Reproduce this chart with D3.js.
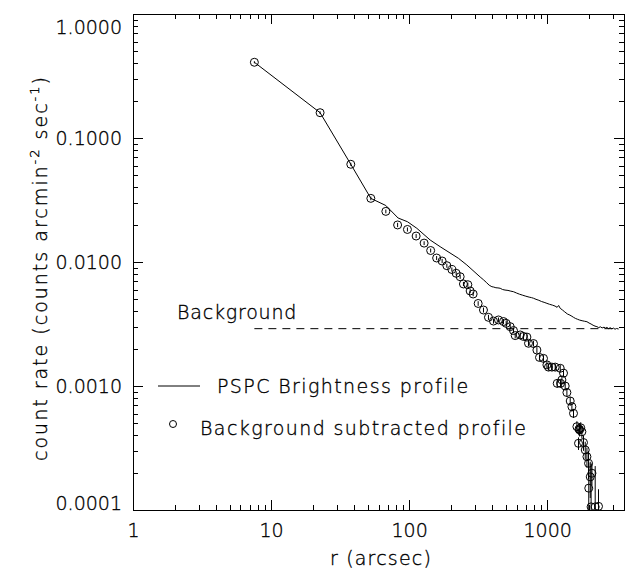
<!DOCTYPE html>
<html>
<head>
<meta charset="utf-8">
<script src="https://cdn.jsdelivr.net/npm/d3@7"></script>
<style>
body { margin: 0; background: #fff; }
svg text { font-family: "DejaVu Sans", sans-serif; font-weight: 200; fill: #000; stroke: #000; stroke-width: 0.35; }
</style>
</head>
<body>
<svg id="chart"></svg>
<script>
// PSPC brightness profile (solid line)
const profileR = [7.57, 22.65, 37.8, 52.8, 67.8, 83.2, 97.2, 113.7, 142.0, 167.7, 227.6, 261.9,
    327, 345, 362, 380, 397.5, 410, 425, 440, 456.5, 475, 495, 520, 545, 570, 600, 630, 660, 700,
    740, 770, 796, 830, 870, 910, 950, 995, 1040, 1090, 1140, 1180, 1210, 1243, 1290, 1340, 1400,
    1460, 1510, 1551, 1600, 1660, 1720, 1790, 1860, 1940, 2010, 2080, 2150, 2220, 2291, 2360,
    2430, 2500, 2580, 2650, 2708, 2780, 2860, 2940, 3020, 3100, 3180, 3286];
const profileRate = [0.408, 0.160, 0.0614, 0.0326, 0.02855, 0.02263, 0.02113, 0.0187, 0.01505, 0.01329, 0.01071, 0.00946,
    0.00757, 0.00720, 0.00685, 0.00650, 0.00632, 0.00628, 0.00620, 0.00618, 0.00614, 0.00600, 0.00594, 0.00590, 0.00582, 0.00576, 0.00562, 0.00550, 0.00541, 0.00530,
    0.00521, 0.00516, 0.00510, 0.00500, 0.00491, 0.00480, 0.00473, 0.00464, 0.00456, 0.00449, 0.00441, 0.00431, 0.00446, 0.00423, 0.00410, 0.00396, 0.00381,
    0.00373, 0.00365, 0.00358, 0.00351, 0.00345, 0.00340, 0.00336, 0.00333, 0.00330, 0.00322, 0.00316, 0.00309, 0.00304, 0.00301, 0.00296,
    0.00300, 0.00294, 0.00298, 0.00293, 0.00297, 0.00290, 0.00295, 0.00289, 0.00293, 0.00287, 0.00291, 0.00288];

// background subtracted profile (circles with error bars)
const subR = [7.57, 22.65, 37.8, 52.8, 67.8, 82.5, 97.2, 112.4, 128.4, 143.2, 158.2, 173.4, 187.6, 203.9,
    219.1, 234.2, 247.4, 266.3, 276.7, 290.9, 316.2, 345.5, 375.5, 408.2, 443.8, 482.3, 504.6, 539.5,
    570, 586.4, 637.4, 673.5, 712.8, 732.1, 795.6, 842.2, 879.5, 940.1, 995, 1022, 1082, 1143, 1182,
    1243, 1250, 1278, 1313, 1350, 1389, 1468, 1510, 1551, 1641, 1686, 1700, 1715, 1750, 1784, 1832,
    1886, 1940, 1993, 2000, 2050, 2080, 2109, 2227, 2353];
const subRate = [0.408, 0.160, 0.0614, 0.0326, 0.0256, 0.0199, 0.0183, 0.0162, 0.0142, 0.01238, 0.01077, 0.01019, 0.00934, 0.0087,
    0.00811, 0.00761, 0.00665, 0.00656, 0.00584, 0.00552, 0.00463, 0.0041, 0.00358, 0.00334, 0.00341, 0.00331, 0.0032, 0.00301,
    0.0028, 0.00255, 0.00258, 0.00251, 0.00248, 0.00221, 0.0022, 0.00195, 0.0017, 0.00167, 0.00148, 0.00142, 0.00142, 0.00142, 0.00105,
    0.00139, 0.00105, 0.00112, 0.00127, 0.001, 0.000886, 0.000757, 0.000681, 0.000602, 0.00047, 0.000345, 0.00045, 0.000442, 0.00046, 0.000428, 0.00035,
    0.000305, 0.000269, 0.000238, 0.00015, 0.000185, 0.000106, 0.000198, 0.000106, 0.000107];
const subErr = [0.008, 0.004, 0.0018, 0.0011, 0.0009, 0.0008, 0.0007, 0.0006, 0.0005, 0.00045, 0.0004, 0.0004, 0.00035, 0.00033,
    0.0003, 0.0003, 0.00026, 0.00026, 0.00024, 0.00023, 0.0002, 0.00019, 0.00017, 0.00016, 0.00016, 0.00016, 0.00016, 0.00015,
    0.00014, 0.00013, 0.00013, 0.00013, 0.00013, 0.00012, 0.00012, 0.00011, 0.0001, 0.0001, 0.00009, 0.00009, 0.00009, 0.00009, 0.00008,
    0.00009, 0.00008, 0.00008, 0.00008, 0.00007, 0.00007, 0.00006, 0.00006, 0.00005, 0.00005, 0.00004, 0.00005, 0.00005, 0.00005, 0.00005, 0.00005,
    0.00005, 0.00005, 0.00006, 0.00009, 0.00006, 0.00013, 0.00004, 0.00012, 0.00004];

const background = 0.0029;
const backgroundR = [7.57, 3286];

const xMajor = [1, 10, 100, 1000];
const xMinor = [2, 3, 4, 5, 6, 7, 8, 9, 20, 30, 40, 50, 60, 70, 80, 90, 200, 300, 400, 500, 600, 700, 800, 900, 2000, 3000];
const yMajor = [0.0001, 0.001, 0.01, 0.1, 1];
const yMinor = [2e-4, 3e-4, 4e-4, 5e-4, 6e-4, 7e-4, 8e-4, 9e-4, 2e-3, 3e-3, 4e-3, 5e-3, 6e-3, 7e-3, 8e-3, 9e-3,
    0.02, 0.03, 0.04, 0.05, 0.06, 0.07, 0.08, 0.09, 0.2, 0.3, 0.4, 0.5, 0.6, 0.7, 0.8, 0.9];

const W = 626, H = 571;
const margin = {top: 14, right: 2, bottom: 61, left: 133};
const w = W - margin.left - margin.right;
const h = H - margin.top - margin.bottom;

const svg = d3.select("#chart").attr("width", W).attr("height", H);
const g = svg.append("g").attr("transform", `translate(${margin.left},${margin.top})`);

const x = d3.scaleLog().domain([1, 3600]).range([0, w]);
const y = d3.scaleLog().domain([0.0001, 1]).range([h, 0]);

svg.append("defs").append("clipPath").attr("id", "plotclip")
    .append("rect").attr("width", w).attr("height", h);

// axes, ticks inward on all four sides
function drawAxis(axisFn, scale, transform, major, minor, fmt, pad) {
    const a = g.append("g").attr("transform", transform);
    a.call(axisFn(scale).tickValues(major).tickSizeInner(-10).tickSizeOuter(0).tickPadding(pad).tickFormat(fmt));
    const m = g.append("g").attr("transform", transform);
    m.call(axisFn(scale).tickValues(minor).tickSizeInner(-5).tickSizeOuter(0).tickFormat(""));
    m.select(".domain").remove();
    [a, m].forEach(s => {
        s.selectAll("line, path").attr("stroke", "#000").attr("shape-rendering", "crispEdges");
        s.selectAll("text").attr("font-family", null).attr("font-size", 19);
    });
    return a;
}

drawAxis(d3.axisBottom, x, `translate(0,${h})`, xMajor, xMinor, d3.format("d"), 14);
drawAxis(d3.axisTop, x, "translate(0,0)", xMajor, xMinor, "", 0);
const yl = drawAxis(d3.axisLeft, y, "translate(0,0)", yMajor, yMinor, d3.format(".4f"), 11);
drawAxis(d3.axisRight, y, `translate(${w},0)`, yMajor, yMinor, "", 0);

// end labels sit inside the frame
yl.selectAll(".tick text").attr("dy", d => d === 1 ? "1.0em" : d === 0.0001 ? "-0.05em" : "0.32em");

// dashed background level
g.append("line")
    .attr("x1", x(backgroundR[0])).attr("x2", x(backgroundR[1]))
    .attr("y1", y(background)).attr("y2", y(background))
    .attr("stroke", "#000").attr("stroke-dasharray", "8,6");

// brightness profile
const profile = profileR.map((r, i) => [r, profileRate[i]]);
g.append("path")
    .datum(profile)
    .attr("fill", "none").attr("stroke", "#000").attr("stroke-width", 1)
    .attr("d", d3.line().x(d => x(d[0])).y(d => y(d[1])));

// subtracted profile
const sub = subR.map((r, i) => ({r: r, v: subRate[i], e: subErr[i]}));
const pts = g.append("g").attr("clip-path", "url(#plotclip)");
pts.selectAll("line.err")
    .data(sub)
    .join("line")
    .attr("class", "err")
    .attr("x1", d => x(d.r)).attr("x2", d => x(d.r))
    .attr("y1", d => d.v - d.e > 0.00005 ? y(d.v - d.e) : h + 5)
    .attr("y2", d => y(d.v + d.e))
    .attr("stroke", "#000").attr("stroke-width", 1);
pts.selectAll("circle")
    .data(sub)
    .join("circle")
    .attr("cx", d => x(d.r)).attr("cy", d => y(d.v))
    .attr("r", 4)
    .attr("fill", "none").attr("stroke", "#000").attr("stroke-width", 1);

// legend
g.append("text").attr("x", 177 - margin.left).attr("y", 312 - margin.top).attr("dy", "0.35em")
    .attr("font-size", 19).attr("letter-spacing", 0.8).text("Background");
g.append("line")
    .attr("x1", 158 - margin.left).attr("x2", 200 - margin.left)
    .attr("y1", 386 - margin.top).attr("y2", 386 - margin.top)
    .attr("stroke", "#000");
g.append("text").attr("x", 217 - margin.left).attr("y", 386 - margin.top).attr("dy", "0.35em")
    .attr("font-size", 19).attr("letter-spacing", 1.4).text("PSPC Brightness profile");
g.append("circle").attr("cx", 173 - margin.left).attr("cy", 424 - margin.top).attr("r", 3.5)
    .attr("fill", "none").attr("stroke", "#000");
g.append("text").attr("x", 200 - margin.left).attr("y", 428 - margin.top).attr("dy", "0.35em")
    .attr("font-size", 19).attr("letter-spacing", 1.4).text("Background subtracted profile");

// axis titles
svg.append("text")
    .attr("x", 381).attr("y", 558).attr("dy", "0.35em")
    .attr("text-anchor", "middle").attr("font-size", 19).attr("letter-spacing", 1.2)
    .text("r (arcsec)");

const yt = svg.append("text")
    .attr("transform", "translate(47,268) rotate(-90)")
    .attr("text-anchor", "middle").attr("font-size", 19).attr("letter-spacing", 2);
yt.append("tspan").text("count rate (counts arcmin");
yt.append("tspan").attr("font-size", 13).attr("dy", -8).text("-2");
yt.append("tspan").attr("dy", 8).text(" sec");
yt.append("tspan").attr("font-size", 13).attr("dy", -8).text("-1");
yt.append("tspan").attr("dy", 8).text(")");
</script>
</body>
</html>
